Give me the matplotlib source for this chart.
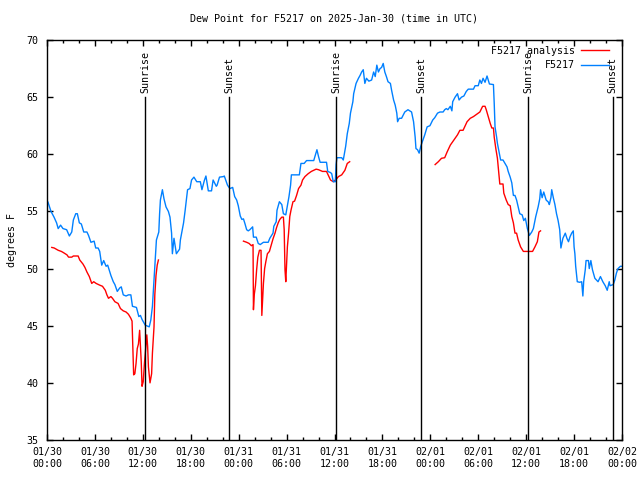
import numpy as np
import matplotlib
matplotlib.use("Agg")
import matplotlib.pyplot as plt
from matplotlib.ticker import MultipleLocator

# hours since 2025-01-30 00:00 UTC
obs_hours = [0.05, 0.13, 0.5, 0.88, 1.2, 1.4, 1.7, 2.0, 2.46, 2.8, 3.1, 3.3, 3.6, 3.8, 4.05, 4.3, 4.6, 5.0, 5.2, 5.5,
             5.9, 6.1, 6.4, 6.6, 6.85, 7.1, 7.4, 7.6, 8.0, 8.3, 8.5, 8.8, 9.1, 9.3, 9.55, 9.9, 10.2, 10.5, 10.7, 11.2,
             11.5, 11.7, 11.9, 12.3, 12.8, 13.0, 13.2, 13.5, 13.7, 14.0, 14.1, 14.2, 14.45, 14.65, 14.9, 15.2, 15.4,
             15.6, 15.7, 15.9, 16.0, 16.2, 16.6, 16.7, 17.1, 17.3, 17.6, 17.9, 18.1, 18.4, 18.75, 19.2, 19.4, 19.7,
             19.9, 20.2, 20.6, 20.8, 21.2, 21.3, 21.6, 22.1, 22.2, 22.6, 22.9, 23.25, 23.5, 23.75, 23.95, 24.2, 24.4,
             24.6, 24.8, 25.0, 25.2, 25.4, 25.75, 25.85, 26.2, 26.45, 26.7, 27.1, 27.7, 27.9, 28.3, 28.4, 28.7, 28.8,
             29.1, 29.4, 29.6, 29.9, 30.0, 30.3, 30.5, 30.6, 31.6, 31.8, 32.2, 32.5, 33.4, 33.55, 33.8, 34.0, 34.2,
             35.0, 35.15, 35.5, 35.65, 35.85, 36.1, 36.2, 36.3, 36.9, 37.1, 37.4, 37.6, 37.85, 38.0, 38.3, 38.4, 38.7,
             39.0, 39.2, 39.4, 39.6, 39.8, 40.0, 40.3, 40.65, 40.9, 41.1, 41.3, 41.5, 41.7, 41.9, 42.1, 42.3, 42.5,
             42.7, 43.0, 43.15, 43.4, 43.6, 43.8, 43.9, 44.1, 44.4, 44.8, 45.2, 45.65, 45.9, 46.1, 46.2, 46.4, 46.6,
             46.8, 47.0, 47.3, 47.6, 47.95, 48.3, 48.55, 48.9, 49.2, 49.6, 49.8, 50.0, 50.2, 50.5, 50.7, 50.8, 51.1,
             51.4, 51.6, 51.9, 52.2, 52.5, 52.75, 53.4, 53.6, 54.0, 54.2, 54.4, 54.6, 54.85, 55.1, 55.4, 55.9, 56.0,
             56.1, 56.3, 56.4, 56.6, 56.8, 57.1, 57.35, 57.6, 57.75, 58.0, 58.2, 58.4, 58.6, 58.8, 59.0, 59.2, 59.5,
             59.7, 59.9, 60.15, 60.4, 60.7, 60.9, 61.2, 61.5, 61.7, 61.8, 62.0, 62.2, 62.5, 62.8, 62.9, 63.1, 63.2,
             63.4, 63.6, 63.8, 64.0, 64.2, 64.35, 64.6, 64.9, 65.1, 65.3, 65.5, 65.7, 65.9, 66.0, 66.1, 66.2, 66.4,
             66.7, 66.95, 67.1, 67.2, 67.4, 67.5, 67.8, 67.9, 68.1, 68.3, 68.6, 69.0, 69.3, 69.6, 69.9, 70.15, 70.4,
             70.5, 70.9, 71.1, 71.3, 71.5, 71.8, 72.0]
obs_dewpt = [55.9, 55.8, 55.0, 54.5, 54.0, 53.5, 53.8, 53.5, 53.4, 52.85, 53.2, 54.25, 54.8, 54.8, 54.0, 53.9, 53.2,
             53.2, 52.9, 52.3, 52.4, 51.8, 51.8, 51.5, 50.3, 50.7, 50.2, 50.3, 49.4, 48.85, 48.6, 48.0, 48.3, 48.4,
             47.7, 47.6, 47.7, 47.7, 46.7, 46.6, 45.8, 45.9, 45.55, 45.05, 44.9, 45.5, 46.7, 50.2, 52.5, 53.2, 54.8,
             56.0, 56.9, 56.1, 55.4, 55.0, 54.5, 53.1, 51.3, 52.65, 52.2, 51.3, 51.7, 52.5, 54.0, 55.1, 56.9, 57.0,
             57.75, 58.0, 57.6, 57.6, 56.9, 57.7, 58.1, 56.8, 56.8, 57.75, 57.2, 57.3, 58.0, 58.05, 58.1, 57.3, 57.0,
             57.1, 56.3, 56.0, 55.5, 54.6, 54.3, 54.35, 53.9, 53.4, 53.3, 53.4, 53.65, 52.75, 52.75, 52.2, 52.1,
             52.3, 52.3, 52.65, 53.1, 53.7, 54.1, 55.1, 55.85, 55.6, 54.8, 54.7, 55.1, 56.3, 57.3, 58.2, 58.2, 59.2,
             59.2, 59.45, 59.45, 59.8, 60.4, 59.8, 59.3, 59.3, 58.5, 58.4, 58.3, 57.6, 57.6, 59.1, 59.7, 59.7, 59.5,
             60.7, 61.8, 62.7, 63.6, 64.6, 65.3, 66.2, 66.65, 66.9, 67.2, 67.4, 66.2, 66.65, 66.4, 66.5, 67.2, 66.8,
             67.8, 67.2, 67.5, 67.6, 67.95, 67.2, 66.8, 66.35, 66.2, 65.6, 64.75, 64.3, 63.6, 62.85, 63.15, 63.15,
             63.7, 63.9, 63.7, 62.85, 61.5, 60.5, 60.4, 60.1, 60.7, 61.1, 61.7, 62.4, 62.5, 63.0, 63.2, 63.6, 63.7,
             63.7, 63.9, 64.0, 63.9, 64.2, 63.8, 64.6, 65.0, 65.3, 64.75, 65.0, 65.1, 65.5, 65.7, 65.7, 66.0, 66.0,
             66.5, 66.2, 66.65, 66.3, 66.85, 66.15, 66.1, 64.45, 62.4, 61.5, 60.95, 60.2, 59.5, 59.5, 59.2, 58.9,
             58.5, 58.0, 57.5, 56.4, 56.4, 56.0, 55.4, 54.8, 54.7, 54.2, 54.4, 53.5, 52.9, 53.2, 53.5, 54.55, 55.4,
             56.1, 56.9, 56.2, 56.7, 56.0, 55.8, 55.6, 56.2, 56.9, 56.2, 55.6, 54.8, 54.2, 53.4, 51.8, 52.65, 53.1,
             52.65, 52.35, 52.8, 53.1, 53.3, 51.9, 51.3, 50.2, 48.85, 48.8, 48.85, 47.6, 48.85, 49.9, 50.7, 50.7,
             50.0, 50.7, 49.9, 49.15, 48.85, 49.3, 48.85, 48.5, 48.1, 48.85, 48.5, 48.6, 49.0, 49.6, 50.0, 50.2,
             50.2]

# analysis series, NaN marks the gaps
ana_hours = [0.6, 0.9, 1.4, 1.8, 2.05, 2.5, 2.7, 3.1, 3.3, 3.9, 4.1, 4.5, 4.75, 5.0, 5.3, 5.6, 5.85, 6.15, 6.6, 6.95,
             7.3, 7.5, 7.7, 8.0, 8.2, 8.5, 8.9, 9.2, 9.55, 9.9, 10.2, 10.5, 10.65, 10.75, 10.85, 11.0, 11.15, 11.3,
             11.45, 11.6, 11.8, 11.9, 12.05, 12.2, 12.3, 12.5, 12.6, 12.7, 12.9, 13.1, 13.2, 13.4, 13.5, 13.65, 13.8,
             13.95, 19.0,
             24.6, 25.0, 25.3, 25.6, 25.8, 25.85, 25.95, 26.1, 26.25, 26.4, 26.6, 26.8, 26.9, 27.0, 27.1, 27.25, 27.4,
             27.6, 27.85, 28.1, 28.3, 28.55, 28.75, 28.95, 29.15, 29.4, 29.6, 29.7, 29.8, 29.9, 30.0, 30.1, 30.25,
             30.4, 30.55, 30.8, 31.0, 31.25, 31.5, 31.8, 32.0, 32.3, 32.7, 33.1, 33.7, 34.0, 34.5, 35.0, 35.2, 35.5,
             35.85, 36.2, 36.5, 36.9, 37.3, 37.6, 37.9, 43.0,
             48.6, 49.0, 49.4, 49.8, 50.1, 50.5, 50.8, 51.1, 51.4, 51.7, 52.1, 52.3, 52.6, 53.0, 53.4, 53.8, 54.2,
             54.55, 54.85, 55.0, 55.25, 55.5, 55.7, 55.9, 56.0, 56.2, 56.4, 56.5, 56.7, 57.1, 57.2, 57.5, 57.75, 58.0,
             58.2, 58.4, 58.6, 58.8, 59.0, 59.3, 59.65, 60.0, 60.5, 60.8, 61.1, 61.4, 61.6, 61.8]
ana_dewpt = [51.85, 51.8, 51.6, 51.5, 51.4, 51.2, 51.0, 51.0, 51.1, 51.1, 50.75, 50.4, 50.1, 49.7, 49.3, 48.7, 48.85,
             48.7, 48.55, 48.45, 48.1, 47.7, 47.4, 47.55, 47.4, 47.1, 46.95, 46.5, 46.3, 46.2, 46.0, 45.65, 45.4,
             43.2, 40.7, 40.8, 41.7, 43.0, 43.4, 44.6, 41.85, 39.7, 40.1, 41.7, 42.5, 44.2, 43.2, 41.4, 40.0, 40.8,
             42.6, 44.9, 47.7, 49.4, 50.3, 50.75, np.nan,
             52.4, 52.3, 52.2, 52.0, 52.1, 46.4, 47.7, 48.5, 49.9, 51.0, 51.6, 51.6, 45.9, 47.3, 48.7, 50.0, 50.6,
             51.3, 51.5, 52.1, 52.6, 53.1, 53.6, 54.0, 54.3, 54.5, 54.5, 53.4, 49.9, 48.85, 50.4, 51.9, 53.1, 54.55,
             55.1, 55.85, 55.9, 56.4, 57.0, 57.3, 57.75, 58.05, 58.3, 58.5, 58.7, 58.65, 58.5, 58.5, 58.2, 57.75,
             57.6, 57.8, 58.05, 58.2, 58.6, 59.2, 59.35, np.nan,
             59.1, 59.35, 59.65, 59.7, 60.2, 60.8, 61.1, 61.4, 61.7, 62.1, 62.1, 62.4, 62.85, 63.15, 63.3, 63.5, 63.7,
             64.2, 64.2, 63.9, 63.3, 62.7, 62.3, 62.3, 61.5, 60.5, 59.65, 58.9, 57.4, 57.4, 56.6, 56.0, 55.6, 55.5,
             54.55, 54.0, 53.1, 53.1, 52.5, 51.9, 51.5, 51.5, 51.5, 51.5, 51.9, 52.35, 53.2, 53.3]

sun_hours = [12.27, 22.8, 36.25, 46.82, 60.23, 70.85]
sun_labels = ["Sunrise", "Sunset", "Sunrise", "Sunset", "Sunrise", "Sunset"]

tick_hours = list(range(0, 73, 6))
tick_labels = ["01/30\n00:00", "01/30\n06:00", "01/30\n12:00", "01/30\n18:00",
               "01/31\n00:00", "01/31\n06:00", "01/31\n12:00", "01/31\n18:00",
               "02/01\n00:00", "02/01\n06:00", "02/01\n12:00", "02/01\n18:00",
               "02/02\n00:00"]

plt.rcParams['font.family'] = ['DejaVu Sans Mono']
plt.rcParams['font.size'] = 7.2

fig = plt.figure(figsize=(6.4, 4.8), dpi=100)
ax = fig.add_axes([47 / 640, 40 / 480, 575 / 640, 400 / 480])

ax.plot(ana_hours, ana_dewpt, color='#ff0000', lw=1, label='F5217 analysis')
ax.plot(obs_hours, obs_dewpt, color='#0080ff', lw=1, label='F5217')

for h, lab in zip(sun_hours, sun_labels):
    ax.plot([h, h], [35, 65], color='black', lw=1)
    ax.text(h, 65.4, lab, rotation=90, ha='center', va='bottom', fontsize=7.2)

ax.set_xlim(0, 72)
ax.set_ylim(35, 70)
ax.set_xticks(tick_hours)
ax.set_xticklabels(tick_labels)
ax.xaxis.set_minor_locator(MultipleLocator(2))
ax.yaxis.set_major_locator(MultipleLocator(5))
ax.tick_params(which='both', direction='in', top=True, right=True, width=1)
ax.tick_params(which='major', length=4.5, pad=5)
ax.tick_params(which='minor', length=2.5)
ax.tick_params(axis='y', pad=6)
for s in ax.spines.values():
    s.set_linewidth(1)

ax.set_ylabel('degrees F', labelpad=7)
ax.set_title('Dew Point for F5217 on 2025-Jan-30 (time in UTC)', pad=13, fontsize=7.2)

ax.legend(loc='upper right', frameon=False, markerfirst=False, handlelength=2.8,
          labelspacing=0.45, borderaxespad=0.0, handletextpad=0.6, fontsize=7.2,
          bbox_to_anchor=(0.985, 0.995))

fig.savefig('out.png', dpi=100)
